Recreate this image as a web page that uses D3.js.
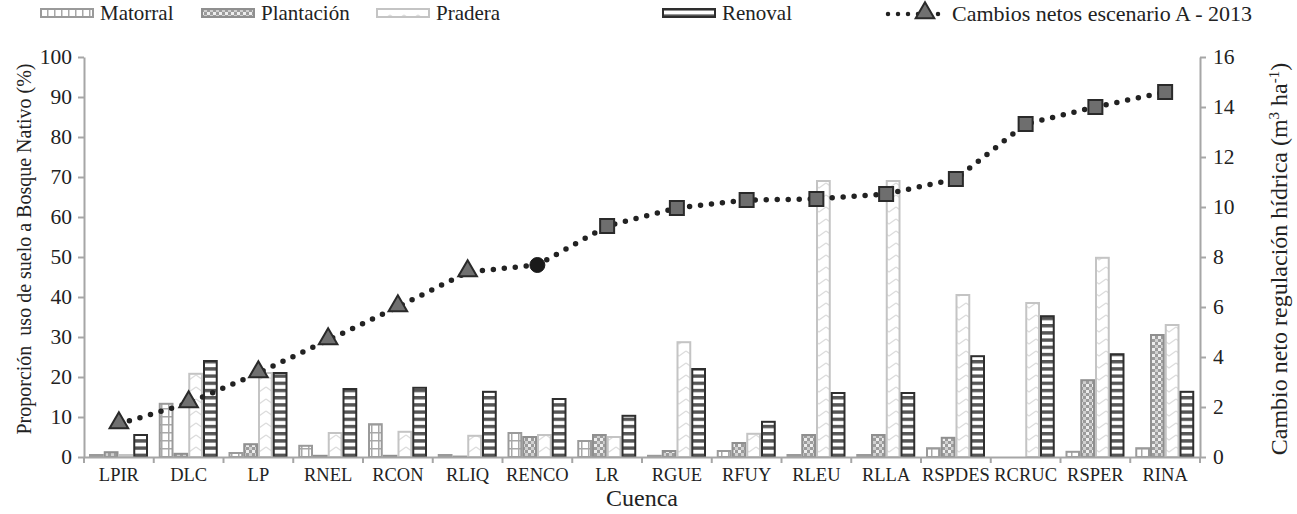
<!DOCTYPE html>
<html>
<head>
<meta charset="utf-8">
<script src="https://cdn.jsdelivr.net/npm/d3@7"></script>
<style>
body { margin: 0; background: #fff; }
</style>
</head>
<body>
<svg id="chart" width="1297" height="514"></svg>
<script>

var cuencas = ["LPIR", "DLC", "LP", "RNEL", "RCON", "RLIQ", "RENCO", "LR", "RGUE", "RFUY", "RLEU", "RLLA", "RSPDES", "RCRUC", "RSPER", "RINA"]

var matorral = [0.5, 13.3, 1.0, 2.8, 8.2, 0.5, 6.0, 4.0, 0.3, 1.5, 0.5, 0.5, 2.2, 0, 1.3, 2.2]
var plantacion = [1.2, 0.8, 3.2, 0.3, 0.3, 0.1, 5.0, 5.5, 1.5, 3.5, 5.5, 5.5, 4.8, 0, 19.2, 30.5]
var pradera = [0.5, 20.8, 21.0, 6.0, 6.3, 5.3, 5.5, 5.0, 28.7, 5.8, 69.0, 69.0, 40.5, 38.5, 49.8, 33.0]
var renoval = [5.5, 24.0, 21.0, 17.0, 17.3, 16.3, 14.5, 10.3, 22.0, 8.8, 16.0, 16.0, 25.2, 35.2, 25.7, 16.3]

var cambios = [1.32, 2.16, 3.36, 4.68, 6.0, 7.4, 7.68, 9.24, 9.96, 10.28, 10.32, 10.52, 11.12, 13.32, 14.0, 14.6]
var marcadores = ["tri", "tri", "tri", "tri", "tri", "tri", "circ", "sq", "sq", "sq", "sq", "sq", "sq", "sq", "sq", "sq"]

var leftTicks = [0, 10, 20, 30, 40, 50, 60, 70, 80, 90, 100]
var rightTicks = [0, 2, 4, 6, 8, 10, 12, 14, 16]

var series = [
	{ name: "Matorral", values: matorral, fill: "url(#pMat)", stroke: "#9a9a9a" },
	{ name: "Plantación", values: plantacion, fill: "url(#pPla)", stroke: "#8f8f8f" },
	{ name: "Pradera", values: pradera, fill: "url(#pPra)", stroke: "#c4c4c4" },
	{ name: "Renoval", values: renoval, fill: "url(#pRen)", stroke: "#2e2e2e" }
]

var svg = d3.select("#chart")
var axisColor = "#a6a6a6"

// patterns
var defs = svg.append("defs")

var pm = defs.append("pattern").attr("id", "pMat").attr("patternUnits", "userSpaceOnUse")
	.attr("width", 7).attr("height", 8)
pm.append("rect").attr("width", 7).attr("height", 8).attr("fill", "#fff")
pm.append("path").attr("d", "M0,0.75H7 M0.75,0V8").attr("stroke", "#a8a8a8").attr("stroke-width", 1.5)

var pp = defs.append("pattern").attr("id", "pPla").attr("patternUnits", "userSpaceOnUse")
	.attr("width", 6).attr("height", 6)
pp.append("rect").attr("width", 6).attr("height", 6).attr("fill", "#9c9c9c")
pp.append("rect").attr("width", 3).attr("height", 3).attr("fill", "#eee")
pp.append("rect").attr("x", 3).attr("y", 3).attr("width", 3).attr("height", 3).attr("fill", "#d0d0d0")

var pr = defs.append("pattern").attr("id", "pPra").attr("patternUnits", "userSpaceOnUse")
	.attr("width", 14).attr("height", 12)
pr.append("rect").attr("width", 14).attr("height", 12).attr("fill", "#fff")
pr.append("path").attr("d", "M0,3 L7,8 L14,3").attr("fill", "none").attr("stroke", "#dcdcdc").attr("stroke-width", 1.3)

var pn = defs.append("pattern").attr("id", "pRen").attr("patternUnits", "userSpaceOnUse")
	.attr("width", 8).attr("height", 7.2)
pn.append("rect").attr("width", 8).attr("height", 7.2).attr("fill", "#fff")
pn.append("rect").attr("y", 0).attr("width", 8).attr("height", 3.4).attr("fill", "#555")

// scales
var x0 = d3.scaleBand().domain(cuencas).range([84, 1200]).padding(0)
var x1 = d3.scaleBand().domain(series.map(function (s) { return s.name })).range([5, 64]).padding(0)
var yL = d3.scaleLinear().domain([0, 100]).range([457, 57])
var yR = d3.scaleLinear().domain([0, 16]).range([457, 57])

// bars
series.forEach(function (s) {
	svg.append("g").selectAll("rect")
		.data(s.values)
		.enter()
		.append("rect")
		.attr("x", function (d, i) { return x0(cuencas[i]) + x1(s.name) + 1 })
		.attr("y", function (d) { return yL(d) })
		.attr("width", x1.bandwidth() - 2)
		.attr("height", function (d) { return yL(0) - yL(d) })
		.attr("fill", s.fill)
		.attr("stroke", function (d) { return d > 0 ? s.stroke : "none" })
		.attr("stroke-width", 2)
})

// axes
var xAxis = d3.axisBottom(x0).tickSize(0).tickPadding(11)
var gx = svg.append("g").attr("transform", "translate(0,457)").call(xAxis)
gx.select(".domain").attr("stroke", axisColor).attr("stroke-width", 2)
gx.selectAll("text").attr("font-size", 18.5)
gx.selectAll(".boundary")
	.data(d3.range(cuencas.length + 1))
	.enter()
	.append("line")
	.attr("x1", function (i) { return 84 + i * x0.bandwidth() })
	.attr("x2", function (i) { return 84 + i * x0.bandwidth() })
	.attr("y1", 0).attr("y2", 6)
	.attr("stroke", axisColor).attr("stroke-width", 2)

var gl = svg.append("g").attr("transform", "translate(84,0)")
	.call(d3.axisLeft(yL).tickValues(leftTicks).tickSize(6).tickPadding(6).tickSizeOuter(0))
gl.select(".domain").attr("stroke", axisColor).attr("stroke-width", 2)
gl.selectAll(".tick line").attr("stroke", axisColor).attr("stroke-width", 2)
gl.selectAll("text").attr("font-size", 21.5)

var gr = svg.append("g").attr("transform", "translate(1200,0)")
	.call(d3.axisRight(yR).tickValues(rightTicks).tickSize(6).tickPadding(7).tickSizeOuter(0))
gr.select(".domain").attr("stroke", axisColor).attr("stroke-width", 2)
gr.selectAll(".tick line").attr("stroke", axisColor).attr("stroke-width", 2)
gr.selectAll("text").attr("font-size", 21.5)

// line
var cx = function (i) { return x0(cuencas[i]) + x0.bandwidth() / 2 }
var line = d3.line()
	.x(function (d, i) { return cx(i) })
	.y(function (d) { return yR(d) })

svg.append("path")
	.datum(cambios)
	.attr("d", line)
	.attr("fill", "none")
	.attr("stroke", "#222")
	.attr("stroke-width", 5.5)
	.attr("stroke-linecap", "round")
	.attr("stroke-dasharray", "0 11")

function drawMarker(g, type, x, y) {
	if (type == "tri") {
		g.append("path").attr("d", d3.symbol(d3.symbolTriangle, 150)())
			.attr("transform", "translate(" + x + "," + (y - 1) + ")")
			.attr("fill", "#707070").attr("stroke", "#2a2a2a").attr("stroke-width", 2)
	} else if (type == "circ") {
		g.append("circle").attr("cx", x).attr("cy", y).attr("r", 7.5)
			.attr("fill", "#1a1a1a").attr("stroke", "#1a1a1a")
	} else {
		g.append("rect").attr("x", x - 7).attr("y", y - 7).attr("width", 14).attr("height", 14)
			.attr("fill", "#6e6e6e").attr("stroke", "#2a2a2a").attr("stroke-width", 2)
	}
}

var gm = svg.append("g")
cambios.forEach(function (v, i) { drawMarker(gm, marcadores[i], cx(i), yR(v)) })

// axis titles
svg.append("text").attr("x", 642).attr("y", 506).attr("text-anchor", "middle")
	.attr("font-size", 24).text("Cuenca")

svg.append("text").attr("transform", "translate(31,249) rotate(-90)").attr("text-anchor", "middle")
	.attr("font-size", 20).attr("xml:space", "preserve").text("Proporción  uso de suelo a Bosque Nativo (%)")

var rt = svg.append("text").attr("transform", "translate(1287,259) rotate(-90)").attr("text-anchor", "middle")
	.attr("font-size", 24)
rt.append("tspan").text("Cambio neto regulación hídrica (m")
rt.append("tspan").attr("baseline-shift", "super").attr("font-size", 15).text("3")
rt.append("tspan").text(" ha")
rt.append("tspan").attr("baseline-shift", "super").attr("font-size", 15).text("-1")
rt.append("tspan").text(")")

// legend
var legendPos = [40, 201, 376, 662]
series.forEach(function (s, i) {
	var lg = svg.append("g").attr("transform", "translate(" + legendPos[i] + ",0)")
	lg.append("rect").attr("x", 1).attr("y", 9).attr("width", 52).attr("height", 8)
		.attr("fill", s.fill).attr("stroke", s.stroke).attr("stroke-width", 2)
	lg.append("text").attr("x", 60).attr("y", 20).attr("font-size", 21).text(s.name)
})
var ll = svg.append("g").attr("transform", "translate(886,0)")
ll.append("path").attr("d", "M2,14H56").attr("stroke", "#222").attr("stroke-width", 4.5)
	.attr("stroke-linecap", "round").attr("stroke-dasharray", "0 10")
drawMarker(ll, "tri", 39, 14)
ll.append("text").attr("x", 66).attr("y", 21).attr("font-size", 22).text("Cambios netos escenario A - 2013")

svg.selectAll("g").attr("font-family", null)
svg.selectAll("text").style("font-family", "'Liberation Serif'").style("fill", "#222")

</script>
</body>
</html>
